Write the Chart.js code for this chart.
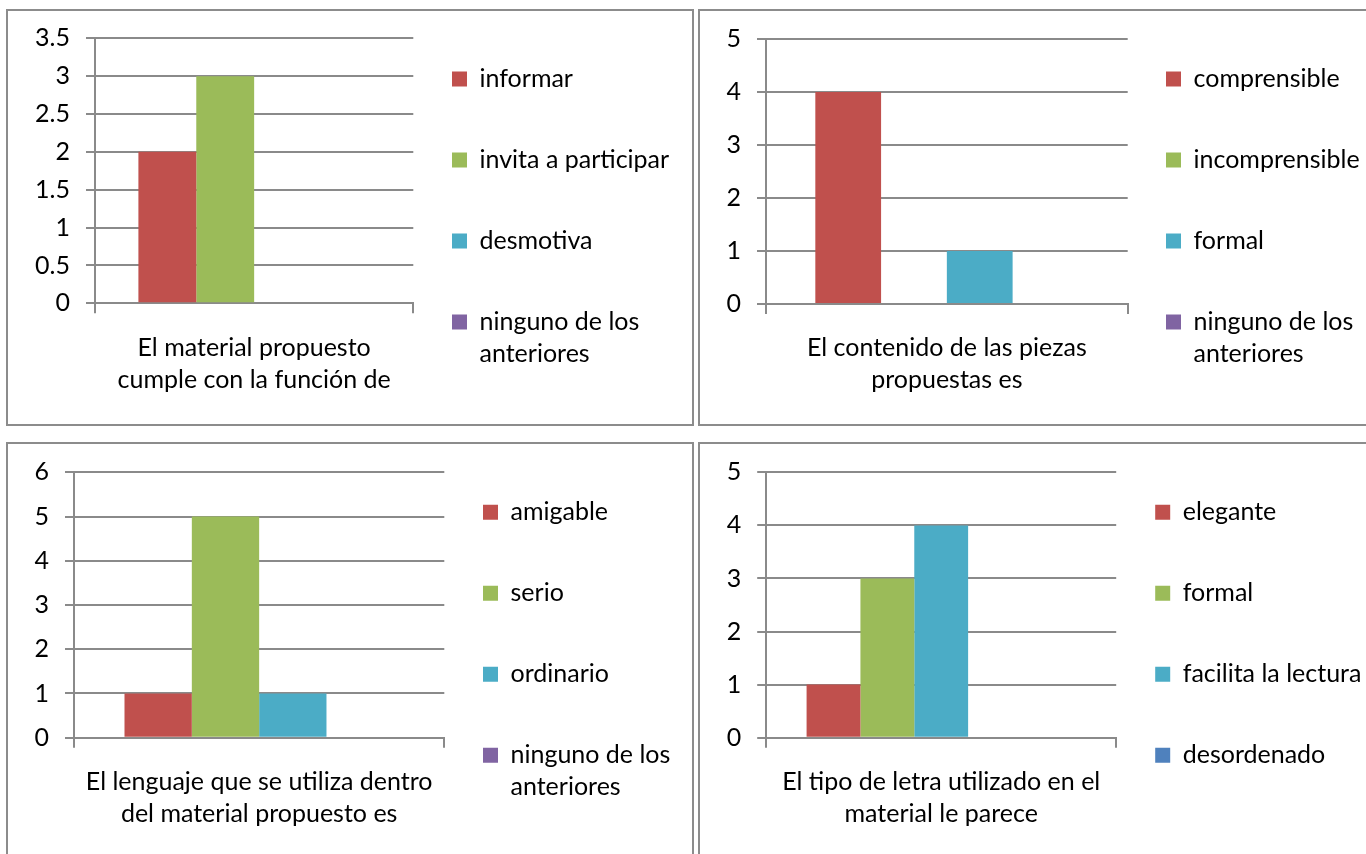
<!DOCTYPE html>
<html>
<head>
<meta charset="utf-8">
<script src="https://cdn.jsdelivr.net/npm/chart.js@4.4.1/dist/chart.umd.min.js"></script>
<style>
html, body { margin: 0; padding: 0; background: #fff; width: 1366px; height: 854px; overflow: hidden; position: relative; }
.panel { position: absolute; box-sizing: border-box; border: 2px solid #8c8c8c; background: #fff; }
canvas { position: absolute; }
</style>
</head>
<body>
<div class="panel" style="left:6px;top:9px;width:688px;height:417px"></div>
<div class="panel" style="left:698px;top:9px;width:700px;height:417px"></div>
<div class="panel" style="left:6px;top:442px;width:688px;height:430px"></div>
<div class="panel" style="left:698px;top:442px;width:700px;height:430px"></div>
<canvas id="c1" width="684" height="413" style="left:8px;top:11px;width:684px;height:413px"></canvas>
<canvas id="c2" width="666" height="413" style="left:700px;top:11px;width:666px;height:413px"></canvas>
<canvas id="c3" width="684" height="410" style="left:8px;top:444px;width:684px;height:410px"></canvas>
<canvas id="c4" width="666" height="410" style="left:700px;top:444px;width:666px;height:410px"></canvas>
<script>
// ---------- data ----------
const categories1 = [['El material propuesto', 'cumple con la función de']];
const series1 = ['informar', 'invita a participar', 'desmotiva', 'ninguno de los anteriores'];
const values1 = [2, 3, 0, 0];
const yTicks1 = { max: 3.5, step: 0.5 };

const categories2 = [['El contenido de las piezas', 'propuestas es']];
const series2 = ['comprensible', 'incomprensible', 'formal', 'ninguno de los anteriores'];
const values2 = [4, 0, 1, 0];
const yTicks2 = { max: 5, step: 1 };

const categories3 = [['El lenguaje que se utiliza dentro', 'del material propuesto es']];
const series3 = ['amigable', 'serio', 'ordinario', 'ninguno de los anteriores'];
const values3 = [1, 5, 1, 0];
const yTicks3 = { max: 6, step: 1 };

const categories4 = [['El tipo de letra utilizado en el', 'material le parece']];
const series4 = ['elegante', 'formal', 'facilita la lectura', 'desordenado', ''];
const values4 = [1, 3, 4, 0, 0];
const yTicks4 = { max: 5, step: 1 };

const colorsA = ['#C0504D', '#9BBB59', '#4BACC6', '#8064A2'];
const colorsB = ['#C0504D', '#9BBB59', '#4BACC6', '#4F81BD', '#F79646'];

// ---------- style ----------
const FONT = "Lato, 'Open Sans', sans-serif";
const FS = 25;
const GRAY = '#8a8a8a';
Chart.defaults.font.family = FONT;
Chart.defaults.color = '#000';

function wrapLegend(text) {
  if (text.length <= 20) return [text, ''];
  const words = text.split(' ');
  let first = '';
  let i = 0;
  while (i < words.length && (first + (first ? ' ' : '') + words[i]).length <= 15) {
    first += (first ? ' ' : '') + words[i];
    i++;
  }
  return [first, words.slice(i).join(' ')];
}

function makeChart(id, g, cats, names, values, colors, yt) {
  const n = names.length;
  const datasets = names.map((name, i) => ({
    label: name,
    data: [values[i]],
    backgroundColor: colors[i],
    borderWidth: 0,
    categoryPercentage: n / (n + 1.5),
    barPercentage: 1
  }));
  const legendWidthPlugin = {
    id: 'legendWidth',
    beforeLayout(chart) {
      const lg = chart.legend;
      if (lg && !lg._fixedWidth) {
        const orig = lg.fit.bind(lg);
        lg.fit = function () { orig(); this.width = g.legW; };
        lg._fixedWidth = true;
      }
    }
  };
  return new Chart(document.getElementById(id), {
    type: 'bar',
    data: { labels: cats, datasets },
    plugins: [legendWidthPlugin],
    options: {
      responsive: false,
      animation: false,
      devicePixelRatio: 1,
      events: [],
      layout: { padding: { left: 0, top: g.padTop, right: 0, bottom: 0 } },
      scales: {
        x: {
          offset: true,
          grid: { display: true, drawOnChartArea: false, drawTicks: true, tickLength: 10, color: GRAY, lineWidth: 2, offset: true },
          border: { display: true, color: GRAY, width: 2 },
          ticks: { color: '#000', padding: 18.4, maxRotation: 0, minRotation: 0, autoSkip: false,
                   font: { size: FS, lineHeight: '32px' } },
          afterFit: s => { s.height = g.xH; }
        },
        y: {
          min: 0, max: yt.max,
          ticks: { stepSize: yt.step, color: '#000', padding: 16, font: { size: FS, lineHeight: '10px' },
                   callback: v => String(v) },
          grid: { color: GRAY, lineWidth: 2, tickLength: 9, drawTicks: true },
          border: { display: true, color: GRAY, width: 2 },
          afterFit: s => { s.width = g.yW; }
        },
        gap: {
          type: 'linear', position: 'right', display: true,
          grid: { display: false, drawTicks: false },
          border: { display: false },
          ticks: { display: false },
          afterFit: s => { s.width = g.gap; }
        }
      },
      plugins: {
        tooltip: { enabled: false },
        legend: {
          position: 'right',
          align: 'start',
          title: { display: true, text: ' ', font: { size: 1, lineHeight: 1 }, padding: { top: g.lt, bottom: 0 } },
          labels: {
            boxWidth: 15, boxHeight: 15, padding: 17, color: '#000',
            font: { size: FS, lineHeight: '32px' },
            generateLabels: chart => {
              const items = Chart.defaults.plugins.legend.labels.generateLabels(chart);
              return items.filter(it => it.text !== '').map(it => Object.assign(it, { text: wrapLegend(it.text) }));
            }
          }
        }
      }
    }
  });
}

makeChart('c1', { padTop: 27.3, legW: 257, yW: 87, xH: 120.7, gap: 21.7, lt: 10.2 },
  categories1, series1, values1, colorsA, yTicks1);
makeChart('c2', { padTop: 28, legW: 217, yW: 66, xH: 120, gap: 21.3, lt: 9.5 },
  categories2, series2, values2, colorsA, yTicks2);
makeChart('c3', { padTop: 28.3, legW: 226, yW: 66, xH: 116.3, gap: 21.7, lt: 9.5 },
  categories3, series3, values3, colorsA, yTicks3);
makeChart('c4', { padTop: 28.3, legW: 227.8, yW: 66.2, xH: 116.3, gap: 22, lt: 9.5 },
  categories4, series4, values4, colorsB, yTicks4);
</script>
</body>
</html>
